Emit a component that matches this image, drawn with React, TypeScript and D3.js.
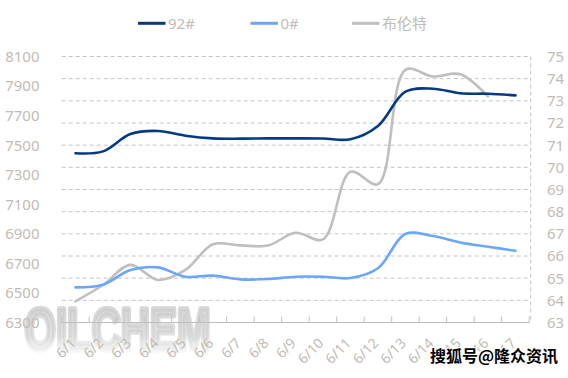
import React from "react";
import * as d3 from "d3";

const categories = ["6/1","6/2","6/3","6/4","6/5","6/6","6/7","6/8","6/9","6/10","6/11","6/12","6/13","6/14","6/15","6/16","6/17"];
const gas92 = [7445,7458,7575,7596,7564,7546,7544,7546,7546,7545,7540,7630,7862,7882,7851,7848,7837];
const diesel0 = [6538,6556,6655,6673,6610,6617,6592,6594,6610,6610,6601,6667,6900,6885,6842,6813,6785];
const brent: (number | null)[] = [63.95,64.69,65.6,64.92,65.37,66.53,66.48,66.47,67.05,66.75,69.8,69.24,74.4,74.1,74.2,73.2,null];
const leftTicks = [6300,6500,6700,6900,7100,7300,7500,7700,7900,8100];
const rightTicks = [63,64,65,66,67,68,69,70,71,72,73,74,75];
const legendItems = [
  { name: "92#", color: "#053A83", x: 138 },
  { name: "0#", color: "#6AA6FA", x: 250.5 },
  { name: "布伦特", color: "#BFBFBF", x: 352 },
];

const W = 568, H = 378;
const plotL = 61.7, plotR = 530.7, plotT = 56.5, plotB = 322.5;
const labelColor = "#C2BBB4";
const font = "'Noto Sans', 'Noto Sans CJK SC', sans-serif";

export default function App() {
  const x = d3.scaleBand<string>().domain(categories).range([plotL, plotL + 27.5 * 17]);
  const yL = d3.scaleLinear().domain([6300, 8100]).range([plotB, plotT]);
  const yR = d3.scaleLinear().domain([63, 75]).range([plotB, plotT]);
  const cx = (c: string) => (x(c) as number) + x.bandwidth() / 2;

  const lineL = d3.line<number>().x((_, i) => cx(categories[i])).y((d) => yL(d)).curve(d3.curveCatmullRom.alpha(0.5));
  const lineR = d3.line<number | null>()
    .defined((d) => d != null)
    .x((_, i) => cx(categories[i]))
    .y((d) => yR(d as number))
    .curve(d3.curveCatmullRom.alpha(0.5));

  const tickXs = categories.map((c) => x(c) as number).concat([(x(categories[categories.length - 1]) as number) + x.bandwidth()]);

  return (
    <svg width={W} height={H} style={{ position: "absolute", left: 0, top: 0, background: "#fff" }} fontFamily={font}>
      <defs>
        <linearGradient id="wm" x1="0" y1="0" x2="0" y2="1">
          <stop offset="0" stopColor="#c8c8c8" stopOpacity="0.8" />
          <stop offset="0.6" stopColor="#d0d0d0" stopOpacity="0.65" />
          <stop offset="1" stopColor="#ffffff" stopOpacity="0.2" />
        </linearGradient>
      </defs>
      <rect x={0} y={0} width={W} height={H} fill="#fff" />
      {rightTicks.slice(1).map((t) => (
        <line key={t} x1={plotL} x2={plotR} y1={yR(t)} y2={yR(t)} stroke="#C4C4C4" strokeWidth={1} strokeDasharray="4,3" />
      ))}
      <line x1={plotR} x2={plotR} y1={plotT} y2={plotB} stroke="#C4C4C4" strokeWidth={1} strokeDasharray="4,3" />
      <text x={24.5} y={350} fontSize={60} fontWeight="bold" fill="url(#wm)" stroke="url(#wm)" strokeWidth={5.5} strokeLinejoin="round" textLength={186} lengthAdjust="spacingAndGlyphs" fontFamily="'Liberation Sans', sans-serif">OILCHEM</text>
      <line x1={plotL} x2={plotR - 1} y1={plotB} y2={plotB} stroke="#BFBFBF" strokeWidth={1.2} />
      {tickXs.map((tx, i) => (
        <line key={i} x1={tx} x2={tx} y1={plotB} y2={plotB - 6} stroke="#BFBFBF" strokeWidth={1} />
      ))}
      {categories.map((c) => (
        <text key={c} transform={`translate(${cx(c) - 2},${plotB + 18}) rotate(-45)`} textAnchor="end" dy="0.35em" fontSize={14} fill={labelColor}>{c}</text>
      ))}
      {leftTicks.map((t) => (
        <text key={t} x={39.5} y={yL(t)} dy="0.36em" textAnchor="end" fontSize={15} fill={labelColor}>{t}</text>
      ))}
      {rightTicks.map((t) => (
        <text key={t} x={547} y={yR(t)} dy="0.36em" textAnchor="start" fontSize={15} fill={labelColor}>{t}</text>
      ))}
      <path d={lineR(brent) || ""} fill="none" stroke="#BFBFBF" strokeWidth={2.6} strokeLinecap="round" />
      <path d={lineL(diesel0) || ""} fill="none" stroke="#6AA6FA" strokeWidth={2.6} strokeLinecap="round" />
      <path d={lineL(gas92) || ""} fill="none" stroke="#053A83" strokeWidth={2.6} strokeLinecap="round" />
      {legendItems.map((it) => (
        <g key={it.name}>
          <line x1={it.x} x2={it.x + 27.5} y1={23.3} y2={23.3} stroke={it.color} strokeWidth={3} />
          <text x={it.x + 30} y={23.3} dy="0.36em" fontSize={15} fill={labelColor}>{it.name}</text>
        </g>
      ))}
      <text x={430} y={362} fontSize={16} fontWeight="bold" fill="#000" stroke="#fff" strokeWidth={2.5} paintOrder="stroke" fontFamily="'Noto Sans CJK SC', sans-serif">搜狐号@隆众资讯</text>
    </svg>
  );
}
